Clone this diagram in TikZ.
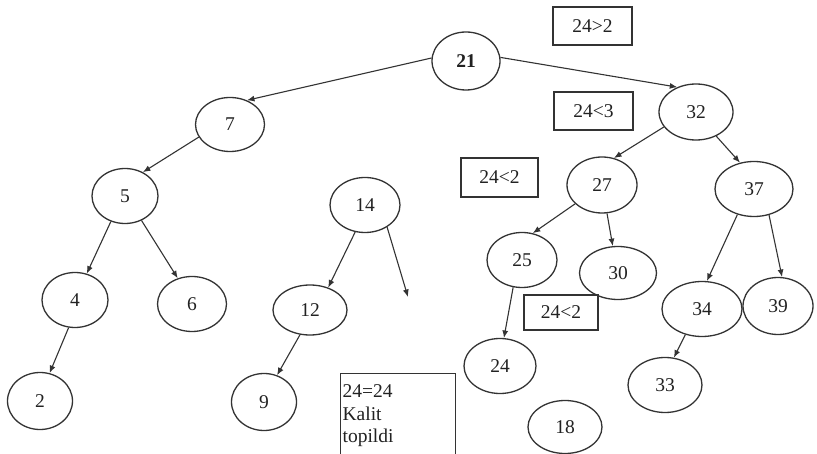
\documentclass[tikz,border=0pt]{standalone}
\usepackage{fontspec}
\setmainfont{Liberation Serif}
\usetikzlibrary{shapes.geometric,arrows.meta}
\definecolor{linec}{HTML}{333333}
\definecolor{textc}{HTML}{222222}
\begin{document}
\begin{tikzpicture}[x=1pt,y=-1pt,
  tnode/.style={draw=linec, line width=1.3pt, ellipse, inner sep=0pt, font=\fontsize{19.5}{22}\selectfont, text=textc},
  lbox/.style={draw=linec, line width=1.3pt, rectangle, inner sep=0pt, font=\fontsize{19.5}{22}\selectfont, text=textc},
  arr/.style={draw=linec, line width=1.1pt, -{Latex[length=7.5pt,width=6pt]}},
  sz/.style 2 args={minimum width=#1pt, minimum height=#2pt},
]
\useasboundingbox[fill=white] (0,0) rectangle (817,454);

% tree nodes
\node[tnode, sz={68}{58}, font=\fontsize{19.5}{22}\selectfont\bfseries] (n21) at (466,61) {21};
\node[tnode, sz={69}{54}] (n7)  at (230,124.5) {7};
\node[tnode, sz={66}{55}] (n5)  at (125,196) {5};
\node[tnode, sz={70}{55}] (n14) at (365,205) {14};
\node[tnode, sz={66}{55}] (n4)  at (75,300) {4};
\node[tnode, sz={69}{55}] (n6)  at (192,304) {6};
\node[tnode, sz={74}{50}] (n12) at (310,310) {12};
\node[tnode, sz={65}{57}] (n2)  at (40,401) {2};
\node[tnode, sz={65}{57}] (n9)  at (264,402) {9};
\node[tnode, sz={74}{56}] (n32) at (696,112) {32};
\node[tnode, sz={70}{56}] (n27) at (602,185) {27};
\node[tnode, sz={78}{55}] (n37) at (754,189) {37};
\node[tnode, sz={70}{55}] (n25) at (522,260) {25};
\node[tnode, sz={77}{53}] (n30) at (618,273) {30};
\node[tnode, sz={80}{55}] (n34) at (702,309) {34};
\node[tnode, sz={70}{57}] (n39) at (778,306) {39};
\node[tnode, sz={72}{55}] (n24) at (500,366) {24};
\node[tnode, sz={74}{55}] (n33) at (665,385) {33};
\node[tnode, sz={74}{53}] (n18) at (565,427) {18};

% comparison boxes
\node[lbox, sz={79}{38}] (b1) at (592.5,26) {24>2};
\node[lbox, sz={79}{38}] (b2) at (593.5,111) {24<3};
\node[lbox, sz={77}{39}] (b3) at (499.5,177.5) {24<2};
\node[lbox, sz={74}{35}] (b4) at (561,312.5) {24<2};
\node[lbox, sz={115}{84}, anchor=north west, align=left, text width=111pt,
      font=\fontsize{19.5}{22.5}\selectfont] (b5) at (340,373) {24=24\\Kalit\\topildi};

\coordinate (free) at (408,297);

% connectors
\draw[arr] (n21.175) -- (n7.55);
\draw[arr] (n21.6.7) -- (n32.127);
\draw[arr] (n7.202) -- (n5.53);
\draw[arr] (n5.241) -- (n4.66);
\draw[arr] (n5.-56) -- (n6.119);
\draw[arr] (n4.257) -- (n2.71);
\draw[arr] (n14.250) -- (n12.51);
\draw[arr] (n14.-45) -- (free);
\draw[arr] (n12.248) -- (n9.64);
\draw[arr] (n32.205) -- (n27.66);
\draw[arr] (n32.-50) -- (n37.118);
\draw[arr] (n27.215) -- (n25.68);
\draw[arr] (n27.-80) -- (n30.101);
\draw[arr] (n25.252) -- (n24.82);
\draw[arr] (n37.237) -- (n34.80);
\draw[arr] (n37.-60) -- (n39.82);
\draw[arr] (n34.237) -- (n33.72);
\end{tikzpicture}
\end{document}
